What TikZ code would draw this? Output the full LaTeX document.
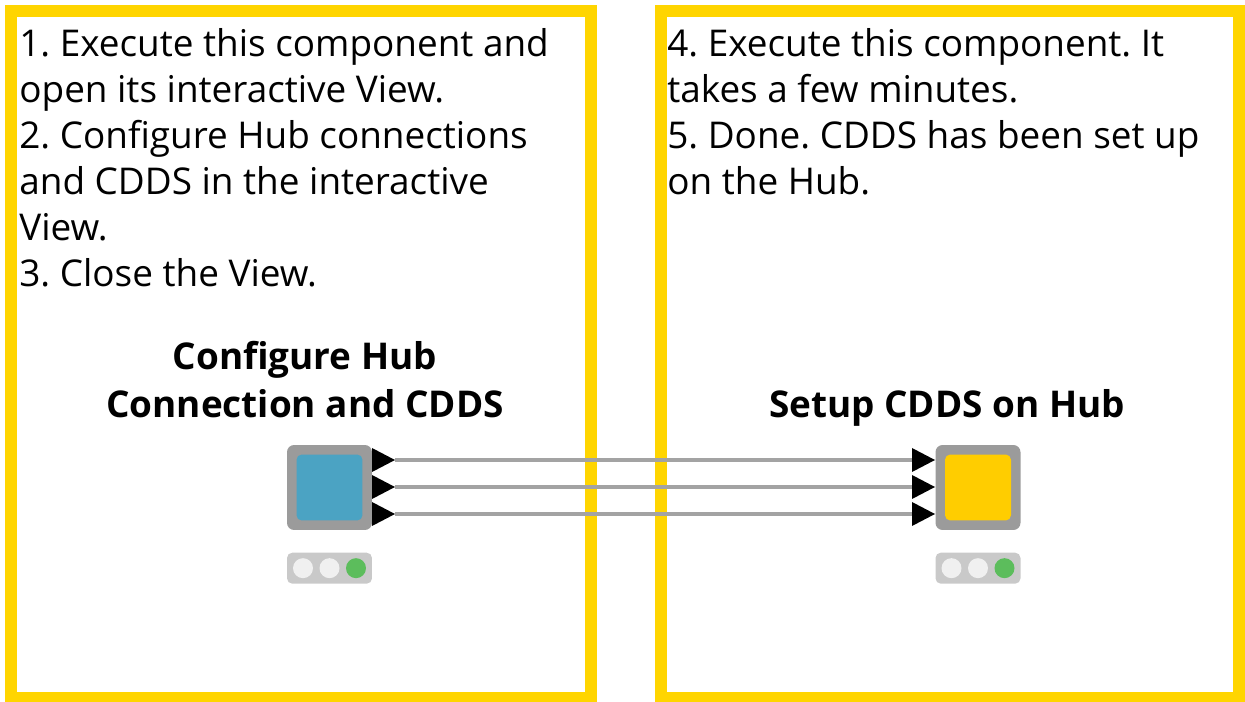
\documentclass[tikz,border=0pt]{standalone}
\usepackage{fontspec}
\setmainfont{Open Sans}
\usetikzlibrary{positioning}
\frenchspacing

\definecolor{frameyellow}{HTML}{FFD500}
\definecolor{nodegray}{HTML}{9B9B9B}
\definecolor{viewblue}{HTML}{4BA3C3}
\definecolor{sinkyellow}{HTML}{FFCD00}
\definecolor{lampbg}{HTML}{C9C9C9}
\definecolor{lampoff}{HTML}{F0F0F0}
\definecolor{lampgreen}{HTML}{5CBD5C}
\definecolor{wiregray}{HTML}{A3A3A3}

\tikzset{
    frame/.style={draw=frameyellow, line width=0.24cm},
    steps/.style={inner sep=0pt, align=left, font=\fontsize{21}{26.2}\selectfont},
    title/.style={inner sep=0pt, align=center, font=\fontsize{21}{27.6}\selectfont\bfseries},
    nodebody/.style={fill=nodegray, rounded corners=4pt, minimum size=1.7cm, inner sep=0pt},
    nodecore/.style={rounded corners=3pt, minimum size=1.32cm, inner sep=0pt},
    lampbar/.style={fill=lampbg, rounded corners=3pt, minimum width=1.7cm, minimum height=0.62cm, inner sep=0pt},
    lamp/.style={circle, minimum size=0.4cm, inner sep=0pt},
    wire/.style={draw=wiregray, line width=0.08cm},
}

\begin{document}
\begin{tikzpicture}[x=0.02cm, y=-0.02cm]

        \useasboundingbox (0,0) rectangle (1245,702);

        % Frames
        \draw [frame] (11,11) rectangle (591,698);
        \draw [frame] (661,11) rectangle (1239,698);

        % Instructions
        \node[steps, anchor=base west] (leftsteps) at (19,287) {1. Execute this component and\\open its interactive View.\\2. Configure Hub connections\\and CDDS in the interactive\\View.\\3. Close the View.};
        \node[steps, anchor=base west] (rightsteps) at (667,195) {4. Execute this component. It\\takes a few minutes.\\5. Done. CDDS has been set up\\on the Hub.};

        % Components
        \node[nodebody] (configure) at (329.5,487.5) {};
        \node[nodecore, fill=viewblue] (configurecore) at (configure) {};
        \node[nodebody] (setup) at (978,487.5) {};
        \node[nodecore, fill=sinkyellow] (setupcore) at (setup) {};

        \node[title, anchor=base] (configuretitle) at (305,418) {Configure Hub\\Connection and CDDS};
        \node[title, anchor=base] (setuptitle) at (947,418) {Setup CDDS on Hub};

        % Status lights
        \node[lampbar, below=0.44cm of configure] (configurestatus) {};
        \node[lampbar, below=0.44cm of setup] (setupstatus) {};
        \foreach \n in {configurestatus, setupstatus}{
            \node[lamp, fill=lampoff] at ([xshift=-0.53cm]\n.center) {};
            \node[lamp, fill=lampoff] at (\n.center) {};
            \node[lamp, fill=lampgreen] at ([xshift=0.53cm]\n.center) {};
        }

        % Ports and connections
        \foreach \i/\y in {1/460, 2/487, 3/514}{
            \coordinate (out\i) at (395,\y);
            \coordinate (in\i) at (912,\y);
            \draw [wire] (out\i) -- (in\i);
            \fill (372,\y-12) -- (out\i) -- (372,\y+12) -- cycle;
            \fill (in\i) -- ++(0,-12) -- (935,\y) -- ++(-23,12) -- cycle;
        }

    \end{tikzpicture}
\end{document}
